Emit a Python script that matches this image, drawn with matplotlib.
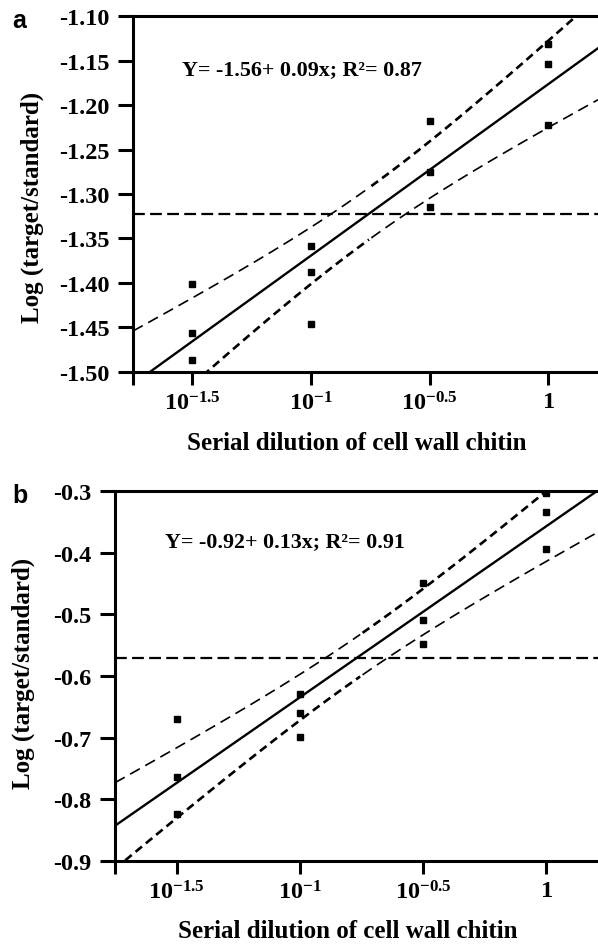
import numpy as np
from matplotlib import pyplot as plt
import matplotlib as mpl

mpl.rcParams['font.family'] = 'Liberation Serif'
mpl.rcParams['font.weight'] = 'bold'
mpl.rcParams['mathtext.fontset'] = 'custom'
mpl.rcParams['mathtext.rm'] = 'Liberation Serif:bold'
mpl.rcParams['mathtext.bf'] = 'Liberation Serif:bold'
mpl.rcParams['mathtext.it'] = 'Liberation Serif:bold'
mpl.rcParams['lines.scale_dashes'] = False

# log10 of the dilution, three replicates per step
dilution = [-1.5, -1.5, -1.5, -1.0, -1.0, -1.0, -0.5, -0.5, -0.5, 0.0, 0.0, 0.0]
xtick_vals = [-1.5, -1.0, -0.5, 0.0]
xtick_labels = [r'$10^{-1.5}$', r'$10^{-1}$', r'$10^{-0.5}$', r'$1$']

a_values = [-1.401, -1.456, -1.487, -1.358, -1.388, -1.446,
            -1.218, -1.275, -1.315, -1.132, -1.154, -1.223]
a_cutoff = -1.3225
a_yticks = [-1.50, -1.45, -1.40, -1.35, -1.30, -1.25, -1.20, -1.15, -1.10]
a_ylabels = ['-1.50', '-1.45', '-1.40', '-1.35', '-1.30', '-1.25', '-1.20', '-1.15', '-1.10']
a_eq = 'Y= -1.56+ 0.09x; R\u00b2= 0.87'

b_values = [-0.670, -0.764, -0.824, -0.629, -0.660, -0.699,
            -0.449, -0.509, -0.548, -0.303, -0.334, -0.394]
b_cutoff = -0.571
b_yticks = [-0.9, -0.8, -0.7, -0.6, -0.5, -0.4, -0.3]
b_ylabels = ['-0.9', '-0.8', '-0.7', '-0.6', '-0.5', '-0.4', '-0.3']
b_eq = 'Y= -0.92+ 0.13x; R\u00b2= 0.91'

T_CRIT = 2.228  # t(0.975, df=10)
XLIM = (-1.75, 0.21)

fig = plt.figure(figsize=(5.98, 9.45), dpi=100)
ax_a = fig.add_axes([0.2224, 0.6053, 0.7776, 0.3767])
ax_b = fig.add_axes([0.1923, 0.0878, 0.8077, 0.3915])


def panel(ax, y, cutoff, yticks, ylabels, eq, letter, eq_pos, ylab_pos, xlab_pos, letter_pos):
    x = np.array(dilution)
    y = np.array(y)
    slope, icpt = np.polyfit(x, y, 1)
    resid = y - (icpt + slope * x)
    s = np.sqrt(np.sum(resid ** 2) / (len(x) - 2))
    xm = x.mean()
    sxx = np.sum((x - xm) ** 2)

    xx = np.linspace(XLIM[0], XLIM[1], 200)
    fit = icpt + slope * xx
    w = T_CRIT * s * np.sqrt(1.0 / len(x) + (xx - xm) ** 2 / sxx)
    left = xx <= xm
    right = xx >= xm

    ax.plot(xx, fit, color='black', lw=1.7)
    thin = dict(color='black', lw=1.2, dashes=(8, 4.5))
    thick = dict(color='black', lw=1.9, dashes=(6, 3.6))
    ax.plot(xx[left], (fit + w)[left], **thin)
    ax.plot(xx[right], (fit + w)[right], **thick)
    ax.plot(xx[left], (fit - w)[left], **thick)
    ax.plot(xx[right], (fit - w)[right], **thin)
    ax.axhline(cutoff, color='black', lw=1.6, dashes=(8.5, 3.8))
    ax.plot(x, y, 's', color='black', markersize=4, zorder=5)

    ax.set_xlim(*XLIM)
    ax.set_ylim(yticks[0], yticks[-1])
    ax.set_xticks(xtick_vals)
    ax.set_xticklabels(xtick_labels, fontsize=17.5)
    ax.set_xticks([XLIM[0]], minor=True)
    ax.set_yticks(yticks)
    ax.set_yticklabels(ylabels, fontsize=17.5)
    ax.tick_params(axis='both', which='both', direction='out', width=2.2, length=9, pad=5)
    ax.tick_params(axis='y', length=11, pad=6)

    for sp in ['left', 'bottom', 'top']:
        ax.spines[sp].set_linewidth(2.2)
    ax.spines['right'].set_visible(False)

    ax.set_xlabel('Serial dilution of cell wall chitin', fontsize=18, fontweight='bold')
    ax.xaxis.set_label_coords(*xlab_pos)
    ax.xaxis.label.set_va('center')
    ax.set_ylabel('Log (target/standard)', fontsize=18, fontweight='bold')
    ax.yaxis.set_label_coords(*ylab_pos)
    ax.yaxis.label.set_va('center')

    ax.text(eq_pos[0], eq_pos[1], eq, transform=ax.transAxes, fontsize=15.8,
            fontweight='bold', ha='left', va='center')
    fig.text(letter_pos[0], letter_pos[1], letter, fontsize=18, fontweight='bold',
             family='Liberation Sans', ha='left', va='baseline')


panel(ax_a, a_values, a_cutoff, a_yticks, a_ylabels, a_eq, 'a',
      eq_pos=(0.105, 0.852), ylab_pos=(-0.217, 0.466), xlab_pos=(0.482, -0.197),
      letter_pos=(0.02, 0.970))
panel(ax_b, b_values, b_cutoff, b_yticks, b_ylabels, b_eq, 'b',
      eq_pos=(0.104, 0.865), ylab_pos=(-0.19, 0.51), xlab_pos=(0.482, -0.189),
      letter_pos=(0.02, 0.468))

plt.savefig('out.png', dpi=100)
